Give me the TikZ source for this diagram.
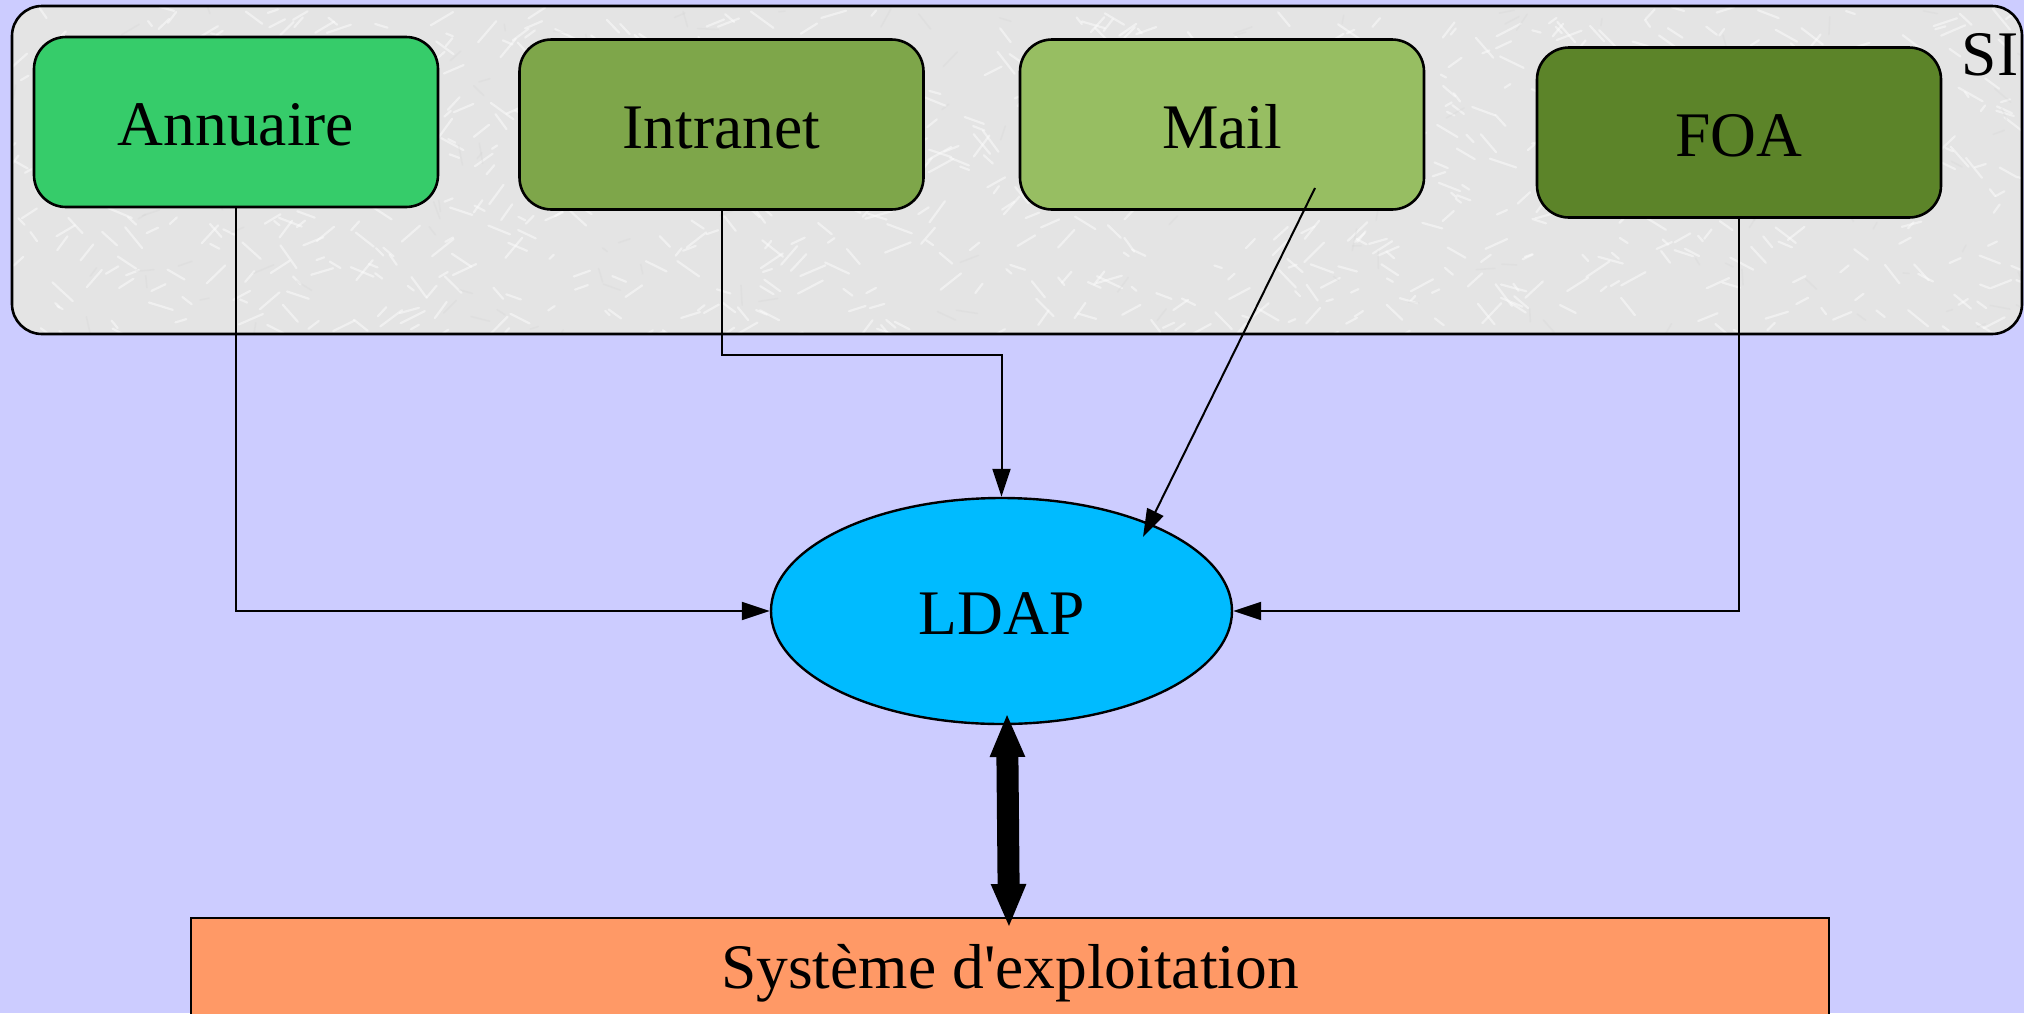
\documentclass[tikz,border=0pt]{standalone}
\usepackage{fontspec}
\setmainfont{Liberation Serif}[Ligatures=TeXOff]
\usetikzlibrary{arrows.meta,shapes.geometric}

\definecolor{bgblue}{HTML}{CCCCFF}
\definecolor{sigrey}{HTML}{E4E4E4}
\definecolor{streakgrey}{HTML}{D2D2D2}
\definecolor{annuairegreen}{HTML}{36CC6A}
\definecolor{intranetgreen}{HTML}{7EA64A}
\definecolor{mailgreen}{HTML}{97BE62}
\definecolor{foagreen}{HTML}{5C8429}
\definecolor{ldapblue}{HTML}{00BBFF}
\definecolor{ossalmon}{HTML}{FF9966}

\tikzset{
  lbl/.style={font=\fontsize{31.75pt}{38pt}\selectfont, text height=23.8pt, text depth=0pt, inner sep=0pt},
  appbox/.style={lbl, draw, line width=1.3pt, rounded corners=16pt,
                 minimum width=202pt, minimum height=85pt},
  clusterbox/.style={draw, line width=1.3pt, rounded corners=15pt, inner sep=0pt,
                 minimum width=1005pt, minimum height=164pt},
  ldapnode/.style={lbl, ellipse, draw, line width=1.2pt, fill=ldapblue,
                 minimum width=230.5pt, minimum height=113pt},
  osbox/.style={draw, line width=1.3pt, fill=ossalmon, inner sep=0pt,
                 minimum width=819pt, minimum height=66pt},
  link/.style={line width=1pt, -{Triangle[length=14pt,width=9pt]}},
  biglink/.style={line width=11pt,
                 {Triangle[length=22pt,width=16pt]}-{Triangle[length=22pt,width=16pt]}},
}

\begin{document}
\begin{tikzpicture}[x=0.5pt,y=-0.5pt]
  \useasboundingbox (0,0) rectangle (2024,1013);
  \clip (0,0) rectangle (2024,1013);
  \fill[bgblue] (0,0) rectangle (2024,1013);

  % SI cluster: light grey paper-like fill with soft streaks
  \fill[sigrey, rounded corners=15pt] (12,6) rectangle (2022,334);
  \begin{scope}
    \clip[rounded corners=15pt] (12,6) rectangle (2022,334);
    \pgfmathsetseed{42}
    \foreach \i in {1,...,900}{
      \pgfmathsetmacro\xa{12+rnd*2010}
      \pgfmathsetmacro\ya{6+rnd*328}
      \pgfmathsetmacro\ang{(rnd<0.5 ? 35 : 145)+rnd*40-20}
      \pgfmathsetmacro\len{6+rnd*22}
      \draw[white, opacity=0.45, line width=1.1pt, line cap=round] (\xa,\ya) -- ++(\ang:\len);
    }
    \foreach \i in {1,...,160}{
      \pgfmathsetmacro\xa{12+rnd*2010}
      \pgfmathsetmacro\ya{6+rnd*328}
      \pgfmathsetmacro\ang{rnd*180}
      \pgfmathsetmacro\len{6+rnd*16}
      \draw[streakgrey, opacity=0.25, line width=0.8pt, line cap=round] (\xa,\ya) -- ++(\ang:\len);
    }
  \end{scope}
  \node[clusterbox] (si) at (1017,170) {};
  \node[lbl] (silabel) at (1990,52) {SI};

  % application boxes
  \node[appbox, fill=annuairegreen] (annuaire) at (236,122) {Annuaire};
  \node[appbox, fill=intranetgreen] (intranet) at (721.5,124.5) {Intranet};
  \node[appbox, fill=mailgreen] (mail) at (1222,124.5) {Mail};
  \node[appbox, fill=foagreen] (foa) at (1739,132.5) {FOA};

  % directory
  \node[ldapnode] (ldap) at (1001.5,611) {LDAP};

  % operating system
  \node[osbox] (os) at (1010,984) {};
  \node[lbl] (ostext) at (1010,965) {Système d'exploitation};

  % connectors
  \draw[link] (annuaire.south) |- (ldap.west);
  \draw[link] (intranet.south) -- ++(0,144) -| (ldap.north);
  \draw[link] (foa.south) |- (ldap.east);
  \coordinate (mailfrom) at (1315,188);
  \coordinate (mailto) at (1143,537);
  \draw[link] (mailfrom) -- (mailto);
  \coordinate (ldapbottom) at (1007,713);
  \coordinate (ostop) at (1009,928);
  \draw[biglink] (ldapbottom) -- (ostop);
\end{tikzpicture}
\end{document}
